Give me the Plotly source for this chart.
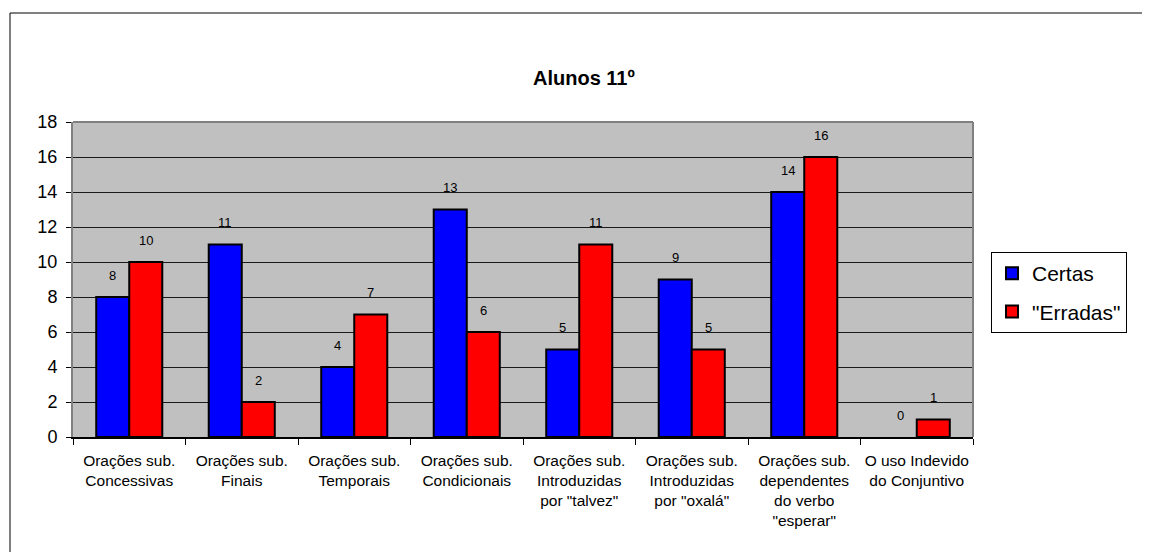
import plotly.graph_objects as go

categories = [
    "Orações sub.<br>Concessivas",
    "Orações sub.<br>Finais",
    "Orações sub.<br>Temporais",
    "Orações sub.<br>Condicionais",
    "Orações sub.<br>Introduzidas<br>por \"talvez\"",
    "Orações sub.<br>Introduzidas<br>por \"oxalá\"",
    "Orações sub.<br>dependentes<br>do verbo<br>\"esperar\"",
    "O uso Indevido<br>do Conjuntivo",
]
certas = [8, 11, 4, 13, 5, 9, 14, 0]
erradas = [10, 2, 7, 6, 11, 5, 16, 1]
y_ticks = list(range(0, 19, 2))

FONT = "Liberation Sans, Arial, sans-serif"

fig = go.Figure()
fig.add_trace(go.Bar(
    x=categories, y=certas, name="Certas", legendgroup="a",
    marker=dict(color="#0000FF",
                line=dict(color="black", width=[2 if v > 0 else 0 for v in certas])),
))
fig.add_trace(go.Bar(
    x=categories, y=erradas, name="\"Erradas\"", legendgroup="b",
    marker=dict(color="#FF0000",
                line=dict(color="black", width=[2 if v > 0 else 0 for v in erradas])),
))

annotations = []
for c, v in zip(categories, certas):
    annotations.append(dict(x=c, y=v, xref="x", yref="y", text=str(v),
                            showarrow=False, xshift=-16.5, yshift=22,
                            font=dict(size=13, color="black", family=FONT)))
for c, v in zip(categories, erradas):
    annotations.append(dict(x=c, y=v, xref="x", yref="y", text=str(v),
                            showarrow=False, xshift=16.5, yshift=22,
                            font=dict(size=13, color="black", family=FONT)))

annotations.append(dict(text="<b>Alunos 11º</b>", x=0.5674, y=1.139, xref="paper", yref="paper",
                        showarrow=False, font=dict(size=20, color="black", family=FONT),
                        xanchor="center", yanchor="middle"))

shapes = [
    # outer chart frame
    dict(type="rect", xref="paper", yref="paper", x0=-0.07, y0=-0.6, x1=1.3, y1=1.346,
         line=dict(color="black", width=1), layer="below"),
    # plot area top and right gray borders
    dict(type="line", xref="paper", yref="paper", x0=0, x1=1, y0=1, y1=1,
         line=dict(color="#808080", width=2)),
    dict(type="line", xref="paper", yref="paper", x0=1, x1=1, y0=0, y1=1,
         line=dict(color="#808080", width=2)),
]

fig.update_layout(
    width=1142, height=544,
    margin=dict(l=65, r=177, t=114, b=115),
    paper_bgcolor="white",
    plot_bgcolor="#C0C0C0",
    barmode="group",
    bargap=0.413,
    bargroupgap=0,
    font=dict(family=FONT, color="black"),
    showlegend=True,
    legend=dict(
        x=1.02, y=0.587, xanchor="left", yanchor="top",
        bordercolor="black", borderwidth=1, bgcolor="white",
        font=dict(size=21, family=FONT, color="black"),
        traceorder="grouped", tracegroupgap=8, itemwidth=30,
    ),
    annotations=annotations,
    shapes=shapes,
    xaxis=dict(
        showgrid=False, ticks="outside", tickson="boundaries", ticklen=6,
        tickcolor="black", showline=True, linecolor="black", linewidth=2,
        tickfont=dict(size=15.5, family=FONT, color="black"),
        tickangle=0, automargin=False, ticklabelstandoff=8,
    ),
    yaxis=dict(
        range=[0, 18], tickvals=y_ticks, showgrid=True, gridcolor="#1a1a1a", gridwidth=1,
        ticks="outside", ticklen=5, tickcolor="black",
        showline=True, linecolor="#808080", linewidth=2,
        tickfont=dict(size=18, family=FONT, color="black"),
        zeroline=False, automargin=False, ticklabelstandoff=5,
    ),
)

fig.write_html("out.html")
